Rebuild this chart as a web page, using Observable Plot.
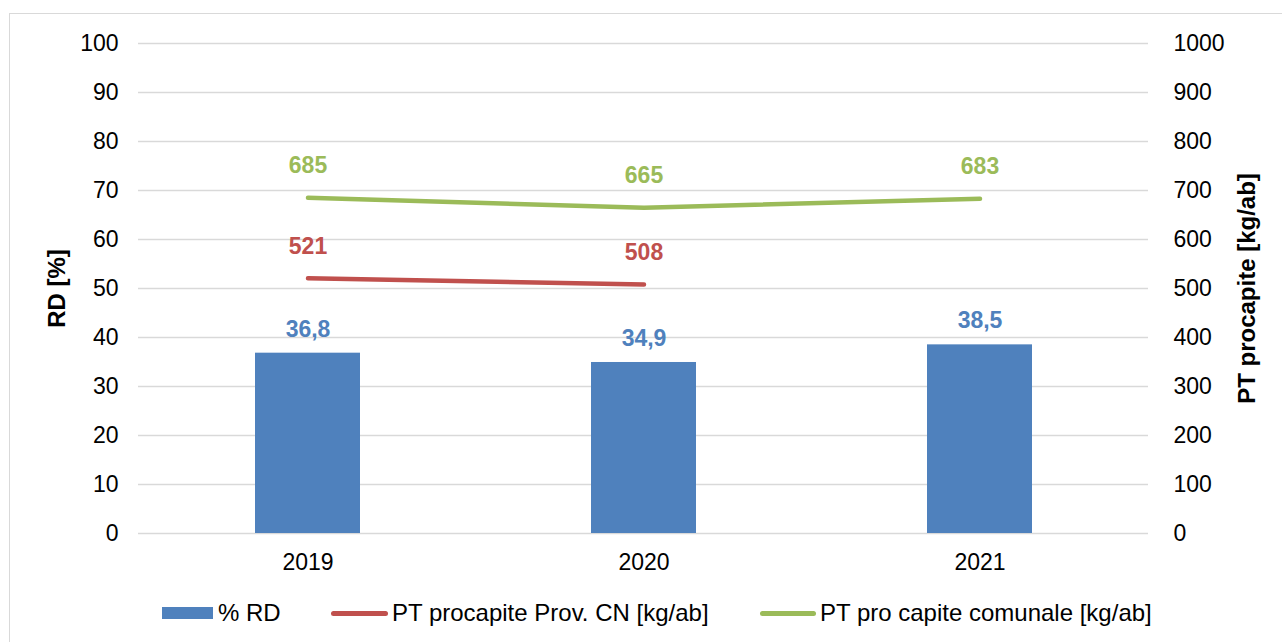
<!DOCTYPE html>
<html><head><meta charset="utf-8">
<script src="https://cdn.jsdelivr.net/npm/d3@7"></script>
<script src="https://cdn.jsdelivr.net/npm/@observablehq/plot@0.6"></script>
<style>
body{margin:0;background:#fff;font-family:"Liberation Sans",Arial,sans-serif;}
#frame{position:absolute;left:9px;top:13px;width:1290px;height:640px;border:1.5px solid #d9d9d9;box-sizing:border-box;}
#chart{position:absolute;left:0;top:0;}
.leg{position:absolute;top:598px;font-size:24px;color:#000;display:flex;align-items:center;height:30px;white-space:nowrap;}
.sw{display:inline-block;margin-right:5px;}
</style></head>
<body>
<div id="frame"></div>
<div id="chart"></div>
<div class="leg" style="left:162px"><span class="sw" style="width:51px;height:12px;background:#4F81BD"></span>% RD</div>
<div class="leg" style="left:331px"><span class="sw" style="width:57px;height:5px;border-radius:3px;background:#C0504D;margin-right:4px"></span>PT procapite Prov. CN [kg/ab]</div>
<div class="leg" style="left:760px"><span class="sw" style="width:56px;height:5px;border-radius:3px;background:#9BBB59;margin-right:4px"></span>PT pro capite comunale [kg/ab]</div>
<script>
const years = ["2019","2020","2021"];
const rd = [36.8, 34.9, 38.5];
const ptProvYears = ["2019","2020"];
const ptProv = [521, 508];
const ptCom = [685, 665, 683];
const leftTicks = [0,10,20,30,40,50,60,70,80,90,100];

const bars = years.map((y,i)=>({year:y, v:rd[i]}));
const prov = ptProvYears.map((y,i)=>({year:y, v:ptProv[i]}));
const com = years.map((y,i)=>({year:y, v:ptCom[i]}));
const fmt = v => String(v).replace(".", ",");

const chart = Plot.plot({
  width: 1282, height: 580,
  marginLeft: 138, marginRight: 134, marginTop: 43, marginBottom: 47,
  style: {fontFamily: "Liberation Sans, Arial, sans-serif", fontSize: "23px", color: "#000", background: "transparent"},
  x: {domain: years, paddingInner: 0.688, paddingOuter: 0.344, label: null},
  y: {domain: [0, 100], label: null},
  marks: [
    Plot.ruleY(leftTicks, {stroke: "#d9d9d9", strokeWidth: 1.5}),
    Plot.barY(bars, {x: "year", y: "v", fill: "#4F81BD"}),
    Plot.line(prov, {x: "year", y: d => d.v/10, stroke: "#C0504D", strokeWidth: 4.5, strokeLinecap: "round"}),
    Plot.line(com, {x: "year", y: d => d.v/10, stroke: "#9BBB59", strokeWidth: 4.5, strokeLinecap: "round"}),
    Plot.text(bars, {x: "year", y: "v", text: d => fmt(d.v), dy: -24, fill: "#4F81BD", fontWeight: "bold", fontSize: 23}),
    Plot.text(prov, {x: "year", y: d => d.v/10, text: d => String(d.v), dy: -32, fill: "#C0504D", fontWeight: "bold", fontSize: 23}),
    Plot.text(com, {x: "year", y: d => d.v/10, text: d => String(d.v), dy: -32, fill: "#9BBB59", fontWeight: "bold", fontSize: 23}),
    Plot.axisX({tickSize: 0, tickPadding: 20, label: null, fontSize: 23}),
    Plot.axisY(leftTicks, {anchor: "left", tickSize: 0, tickPadding: 20, label: null, fontSize: 23}),
    Plot.axisY(leftTicks, {anchor: "right", tickSize: 0, tickPadding: 25, label: null, fontSize: 23, tickFormat: d => String(d*10), textAnchor: "start"}),
    Plot.text(["RD [%]"], {frameAnchor: "left", textAnchor: "middle", dx: -81, rotate: -90, fontWeight: "bold", fontSize: 24}),
    Plot.text(["PT procapite [kg/ab]"], {frameAnchor: "right", textAnchor: "middle", dx: 99, rotate: -90, fontWeight: "bold", fontSize: 24})
  ]
});
document.getElementById("chart").appendChild(chart);
</script>
</body></html>
